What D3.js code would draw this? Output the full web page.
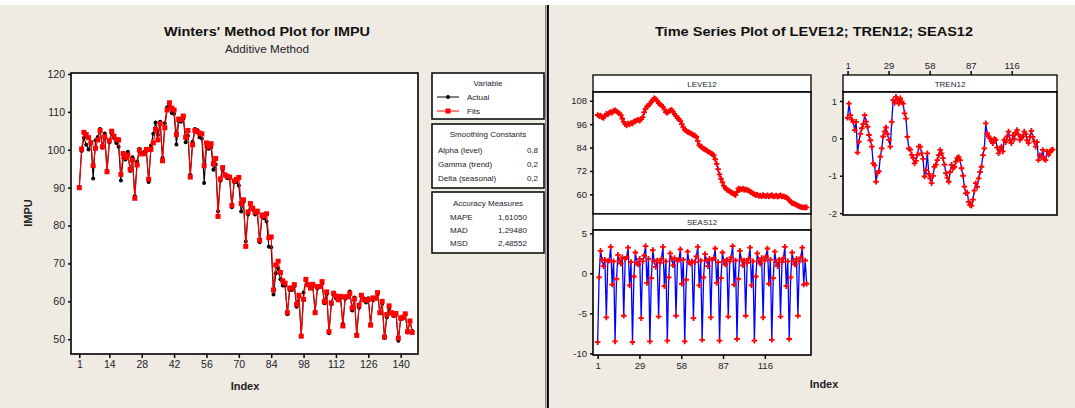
<!DOCTYPE html>
<html><head><meta charset="utf-8">
<script src="https://cdn.jsdelivr.net/npm/d3@7"></script>
<style>
body{margin:0;background:#fff}
svg{display:block;font-family:"Liberation Sans",Arial,sans-serif}
</style>
</head><body>
<svg id="c" width="1075" height="408"></svg>
<script>
// ---------------- DATA ----------------
const actual = [90.2,99.7,103.2,101.3,100.1,102.0,92.4,102.5,103.4,105.5,100.5,104.3,
94.5,101.9,104.3,103.1,101.8,100.8,91.9,97.8,97.4,99.5,94.4,98.0,
87.8,96.9,100.2,99.2,99.4,99.6,91.5,101.1,104.2,107.2,103.9,107.4,
97.9,107.0,111.2,111.9,109.7,109.5,101.4,107.5,107.4,108.2,102.0,103.7,
93.4,102.1,105.5,105.2,103.3,103.0,91.2,100.7,100.3,100.6,94.7,96.1,
83.8,91.8,94.7,93.2,92.5,92.4,84.8,91.5,91.5,90.6,83.7,86.2,
75.8,82.9,85.4,84.2,82.9,83.4,75.6,82.3,81.9,81.1,74.4,74.3,
61.8,67.4,68.7,65.8,64.2,64.1,56.6,63.0,63.0,64.0,58.6,61.2,
51.0,62.3,65.5,64.2,63.9,63.9,57.3,63.4,63.8,64.6,59.5,61.9,
51.6,59.2,62.3,60.8,60.6,60.9,54.1,60.7,61.1,62.6,57.6,61.0,
51.3,58.3,61.7,60.8,59.7,60.8,54.1,60.3,60.9,61.9,56.9,59.3,
50.3,55.7,58.1,56.8,56.1,56.4,49.6,55.3,55.5,56.6,51.8,54.9,52.2];

const fits = [90.0,100.2,104.6,104.0,103.2,101.8,95.8,100.4,102.6,105.1,100.8,103.4,
94.2,102.4,104.9,103.6,102.7,102.6,93.5,99.0,98.0,98.6,94.8,97.3,
87.2,96.0,99.9,98.9,99.0,100.1,92.2,100.1,101.8,105.4,102.6,106.9,
97.1,105.8,110.5,112.4,111.0,110.5,104.0,108.1,108.0,108.9,103.3,105.1,
92.8,101.3,105.1,104.8,104.4,104.2,95.8,101.8,100.8,101.6,96.3,97.7,
82.4,92.3,95.3,93.4,93.0,92.8,85.3,91.8,92.2,92.7,85.8,86.8,
74.5,83.6,85.8,84.6,83.5,83.8,76.1,82.8,82.5,83.1,76.8,77.0,
63.0,69.6,70.6,67.6,65.4,64.8,57.0,63.5,63.5,64.4,59.2,61.6,
50.8,60.5,65.8,64.4,63.5,64.5,57.0,63.9,63.9,65.2,59.9,62.5,
52.0,59.6,62.1,61.4,60.4,61.3,53.5,61.2,61.2,62.1,58.2,60.6,
51.0,59.0,61.6,60.4,60.3,60.5,53.7,60.9,60.8,62.3,57.0,60.0,
50.6,56.5,58.8,57.0,56.4,56.8,50.3,55.6,55.8,56.7,52.0,54.8,51.8];

const leve12 = [100.7,100.2,100.4,99.6,99.2,100.3,101.3,101.0,101.8,102.2,101.9,102.8,
103.1,102.6,102.0,101.5,100.6,98.8,97.2,96.0,95.4,96.3,95.9,96.6,
96.4,97.3,97.6,97.9,98.3,97.8,98.6,99.6,102.0,103.8,105.1,105.6,
106.4,107.6,108.3,109.3,108.9,107.9,106.8,106.2,105.6,104.9,103.6,102.2,
101.8,102.6,103.0,103.4,102.3,101.1,100.2,99.1,98.6,97.6,96.0,94.4,
93.1,92.6,92.0,91.8,91.3,90.9,90.4,90.1,89.4,87.3,85.2,84.6,
84.1,83.4,83.0,82.6,82.0,81.6,81.1,80.6,80.0,78.0,75.6,72.9,
70.2,68.0,66.1,64.3,63.1,62.4,62.0,61.5,61.0,60.6,60.0,59.6,
61.2,63.0,62.7,62.5,62.9,62.3,62.6,62.1,62.0,61.4,61.0,60.4,
60.0,59.6,59.8,59.2,59.4,59.0,59.6,59.1,59.0,59.5,58.9,59.3,
59.6,58.9,59.0,59.4,58.8,59.1,59.5,58.9,59.0,58.6,58.5,57.8,
57.0,56.2,55.5,55.3,55.0,54.6,54.1,53.8,53.5,53.4,53.2,53.3,53.3];

const tren12 = [0.55,0.93,0.62,0.50,0.44,0.22,0.44,-0.38,-0.09,0.12,0.27,0.38,
0.62,0.45,0.31,0.09,-0.05,-0.22,-0.67,-0.72,-1.16,-0.93,-0.88,-0.49,
-0.27,0.05,0.18,0.29,0.12,-0.04,-0.22,0.44,1.02,0.95,1.11,1.02,
0.93,1.07,0.98,0.93,0.67,0.53,0.04,-0.27,-0.30,-0.44,-0.52,-0.67,
-0.60,-0.44,-0.22,-0.22,-0.40,-0.55,-1.02,-0.85,-0.40,-0.95,-1.07,-1.20,
-1.00,-0.76,-0.70,-0.58,-0.45,-0.31,-0.40,-0.53,-0.70,-0.93,-1.05,-1.16,
-0.90,-0.71,-0.80,-0.76,-0.62,-0.53,-0.50,-0.58,-0.80,-1.00,-1.29,-1.47,
-1.45,-1.70,-1.78,-1.80,-1.64,-1.40,-1.20,-1.30,-1.07,-0.90,-0.76,-0.45,
-0.27,0.40,0.13,0.05,0.00,-0.08,-0.13,-0.02,-0.04,-0.25,-0.40,-0.30,
-0.22,-0.35,-0.04,-0.10,0.05,0.18,-0.05,-0.13,0.08,-0.02,0.15,0.22,
0.10,-0.04,0.02,0.05,0.18,0.12,-0.05,-0.13,0.04,0.20,0.04,-0.08,
-0.22,-0.10,-0.58,-0.45,-0.49,-0.31,-0.55,-0.58,-0.35,-0.44,-0.38,-0.31,-0.30];

const seas12 = [-8.6,-0.5,2.8,1.7,0.9,1.7,-5.5,1.5,1.6,3.3,-1.4,1.5,
-8.5,-0.7,2.3,1.6,1.2,2.0,-5.3,1.8,2.0,3.2,-1.5,1.4,
-8.6,-0.4,2.6,1.3,1.1,1.8,-5.6,1.5,2.2,3.4,-1.2,1.8,
-8.5,-0.6,2.9,1.5,0.8,1.6,-5.4,1.3,1.8,3.3,-1.6,1.5,
-8.4,-0.5,2.5,1.8,1.0,1.9,-5.3,1.6,1.7,3.0,-1.3,1.7,
-8.5,-0.8,2.7,1.4,1.2,1.5,-5.6,1.4,2.1,3.3,-1.5,1.6,
-8.3,-0.5,2.4,1.6,0.9,1.8,-5.5,1.7,1.9,3.1,-1.2,1.4,
-8.4,-0.6,2.6,1.5,1.1,1.7,-5.4,1.5,2.0,3.4,-1.4,1.6,
-8.2,-0.7,2.8,1.7,1.0,1.6,-5.3,1.3,1.8,3.2,-1.5,1.5,
-8.4,-0.4,2.5,1.6,1.2,1.9,-5.5,1.6,2.1,3.1,-1.3,1.7,
-8.3,-0.6,2.7,1.4,0.9,1.7,-5.4,1.4,1.9,3.3,-1.6,1.5,
-8.2,-0.5,2.6,1.5,1.1,1.8,-5.3,1.5,2.0,3.2,-1.4,1.6,-1.3];

const leftXTicks = [1,14,28,42,56,70,84,98,112,126,140];
const leftYTicks = [50,60,70,80,90,100,110,120];
const rightXTickLabels = ["1","29","58","87","116"];
const leveTicks = [60,72,84,96,108];
const trenTicks = [-2,-1,0,1];
const seasTicks = [-10,-5,0,5];

const smoothing = [["Alpha (level)","0,8"],["Gamma (trend)","0,2"],["Delta (seasonal)","0,2"]];
const accuracy = [["MAPE","1,61050"],["MAD","1,29480"],["MSD","2,48552"]];

// ---------------- DRAW ----------------
const n = actual.length;
const idx = d3.range(1, n + 1);
const svg = d3.select("#c");
const BG = "#efebe2";
const TXT = "#1c1c2c";
const fmt = d => String(d);

svg.append("rect").attr("x",0).attr("y",5).attr("width",546).attr("height",403).attr("fill",BG);
svg.append("rect").attr("x",549).attr("y",5).attr("width",526).attr("height",403).attr("fill",BG);
svg.append("line").attr("x1",545.5).attr("x2",545.5).attr("y1",5).attr("y2",408).attr("stroke","#888").attr("stroke-width",1);
svg.append("line").attr("x1",547.8).attr("x2",547.8).attr("y1",5).attr("y2",408).attr("stroke","#000").attr("stroke-width",2.2);

function txt(x,y,s,opt={}){
  const t = svg.append("text").attr("x",x).attr("y",y).text(s)
    .attr("font-size",opt.size||9).attr("fill",opt.fill||TXT)
    .attr("text-anchor",opt.anchor||"start");
  if(opt.bold) t.attr("font-weight","bold");
  if(opt.len) t.attr("textLength",opt.len).attr("lengthAdjust","spacingAndGlyphs");
  return t;
}

// ----- Left chart -----
txt(267,36,"Winters' Method Plot for IMPU",{size:13,bold:true,anchor:"middle",len:206,fill:"#111"});
txt(267,53,"Additive Method",{size:10,anchor:"middle",len:84});

const L = {l:71,r:418,t:73,b:354};
const xL = d3.scaleLinear().domain([-2.59,147.5]).range([L.l,L.r]);
const yL = d3.scaleLinear().domain([46.1,120.26]).range([L.b,L.t]);

svg.append("rect").attr("x",L.l).attr("y",L.t).attr("width",L.r-L.l).attr("height",L.b-L.t)
  .attr("fill","#fff").attr("stroke","#000").attr("stroke-width",1.6);

const axL = svg.append("g").attr("transform",`translate(${L.l},0)`)
  .call(d3.axisLeft(yL).tickValues(leftYTicks).tickFormat(fmt).tickSize(3).tickPadding(3));
const axB = svg.append("g").attr("transform",`translate(0,${L.b})`)
  .call(d3.axisBottom(xL).tickValues(leftXTicks).tickFormat(fmt).tickSize(4).tickPadding(3));
[axL,axB].forEach(g=>{g.select(".domain").remove();
  g.selectAll("text").attr("font-size",10.5).attr("fill",TXT).attr("font-family","Liberation Sans, Arial");
  g.selectAll("line").attr("stroke","#000").attr("stroke-width",1.5);});

txt(245,390,"Index",{size:11,bold:true,anchor:"middle",fill:"#222"});
svg.append("text").attr("transform","translate(32,213) rotate(-90)").attr("text-anchor","middle")
  .attr("font-size",11).attr("font-weight","bold").attr("fill","#222").text("IMPU");

const gL = svg.append("g");
const lineA = d3.line().x((d,i)=>xL(idx[i])).y(d=>yL(d));
gL.append("path").datum(actual).attr("d",lineA).attr("fill","none").attr("stroke","#000").attr("stroke-width",1.1);
gL.selectAll("circle.a").data(actual).join("circle").attr("class","a")
  .attr("cx",(d,i)=>xL(idx[i])).attr("cy",d=>yL(d)).attr("r",2).attr("fill","#000");
gL.append("path").datum(fits).attr("d",lineA).attr("fill","none").attr("stroke","#f00").attr("stroke-width",1.1);
gL.selectAll("rect.f").data(fits).join("rect").attr("class","f")
  .attr("x",(d,i)=>xL(idx[i])-2.5).attr("y",d=>yL(d)-2.5).attr("width",5).attr("height",5).attr("fill","#f00");

// legend boxes
function box(y0,h){svg.append("rect").attr("x",432).attr("y",y0).attr("width",112).attr("height",h)
  .attr("fill","#fff").attr("stroke","#000").attr("stroke-width",1.5);}
box(73,46); box(124,64); box(192,61);
txt(488,86,"Variable",{size:8,anchor:"middle"});
svg.append("line").attr("x1",437).attr("x2",459).attr("y1",97).attr("y2",97).attr("stroke","#000");
svg.append("circle").attr("cx",448).attr("cy",97).attr("r",2).attr("fill","#000");
txt(467,100,"Actual",{size:8});
svg.append("line").attr("x1",437).attr("x2",459).attr("y1",111).attr("y2",111).attr("stroke","#f00");
svg.append("rect").attr("x",445.5).attr("y",108.5).attr("width",5).attr("height",5).attr("fill","#f00");
txt(467,114,"Fits",{size:8});

txt(488,137,"Smoothing Constants",{size:8,anchor:"middle"});
smoothing.forEach((r,i)=>{txt(438,153+i*14,r[0],{size:8});txt(538,153+i*14,r[1],{size:8,anchor:"end"});});
txt(488,206,"Accuracy Measures",{size:8,anchor:"middle"});
accuracy.forEach((r,i)=>{txt(450,220+i*13,r[0],{size:8});txt(498,220+i*13,r[1],{size:8});});

// ----- Right chart -----
txt(814,36,"Time Series Plot of LEVE12; TREN12; SEAS12",{size:13,bold:true,anchor:"middle",len:318,fill:"#111"});

function panel(x0,x1,hy0,hy1,py1,label){
  svg.append("rect").attr("x",x0).attr("y",hy0).attr("width",x1-x0).attr("height",hy1-hy0)
    .attr("fill","#fff").attr("stroke","#000").attr("stroke-width",1.3);
  svg.append("rect").attr("x",x0).attr("y",hy1).attr("width",x1-x0).attr("height",py1-hy1)
    .attr("fill","#fff").attr("stroke","#000").attr("stroke-width",1.6);
  txt((x0+x1)/2,hy1-5,label,{size:8,anchor:"middle"});
}
panel(593,811,75,92,214,"LEVE12");
panel(593,811,214,230,355,"SEAS12");
panel(843,1057,75,92,215,"TREN12");

const tickPos = rightXTickLabels.map((s,i)=>1+i*(n-1)/5);
const xR = d3.scaleLinear().domain([-2.2,148]).range([593,811]);
const xT = d3.scaleLinear().domain([-2.2,148]).range([843,1057]);
const yLev = d3.scaleLinear().domain([49.9,112.5]).range([214,92]);
const ySea = d3.scaleLinear().domain([-10.2,5.41]).range([355,230]);
const yTre = d3.scaleLinear().domain([-2.05,1.24]).range([215,92]);

function styleAx(g){g.select(".domain").remove();
  g.selectAll("text").attr("font-size",9.5).attr("fill",TXT).attr("font-family","Liberation Sans, Arial");
  g.selectAll("line").attr("stroke","#000").attr("stroke-width",1.5);}
styleAx(svg.append("g").attr("transform","translate(593,0)").call(d3.axisLeft(yLev).tickValues(leveTicks).tickFormat(fmt).tickSize(3).tickPadding(3)));
styleAx(svg.append("g").attr("transform","translate(593,0)").call(d3.axisLeft(ySea).tickValues(seasTicks).tickFormat(fmt).tickSize(3).tickPadding(3)));
styleAx(svg.append("g").attr("transform","translate(843,0)").call(d3.axisLeft(yTre).tickValues(trenTicks).tickFormat(fmt).tickSize(3).tickPadding(3)));
styleAx(svg.append("g").attr("transform","translate(0,355)").call(d3.axisBottom(xR).tickValues(tickPos).tickFormat((d,i)=>rightXTickLabels[i]).tickSize(4).tickPadding(3)));
styleAx(svg.append("g").attr("transform","translate(0,75)").call(d3.axisTop(xT).tickValues(tickPos).tickFormat((d,i)=>rightXTickLabels[i]).tickSize(4).tickPadding(2)));

txt(824,388,"Index",{size:11,bold:true,anchor:"middle",fill:"#222"});

const plusPath = "M-2.8,0H2.8M0,-2.8V2.8";
function series(data,xs,ys){
  const g = svg.append("g");
  g.append("path").datum(data).attr("d",d3.line().x((d,i)=>xs(idx[i])).y(d=>ys(d)))
    .attr("fill","none").attr("stroke","#0000ff").attr("stroke-width",1.3);
  g.selectAll("path.p").data(data).join("path").attr("class","p").attr("d",plusPath)
    .attr("transform",(d,i)=>`translate(${xs(idx[i])},${ys(d)})`)
    .attr("stroke","#f00").attr("stroke-width",1.8).attr("fill","none");
}
series(leve12,xR,yLev);
series(seas12,xR,ySea);
series(tren12,xT,yTre);
</script>
</body></html>
